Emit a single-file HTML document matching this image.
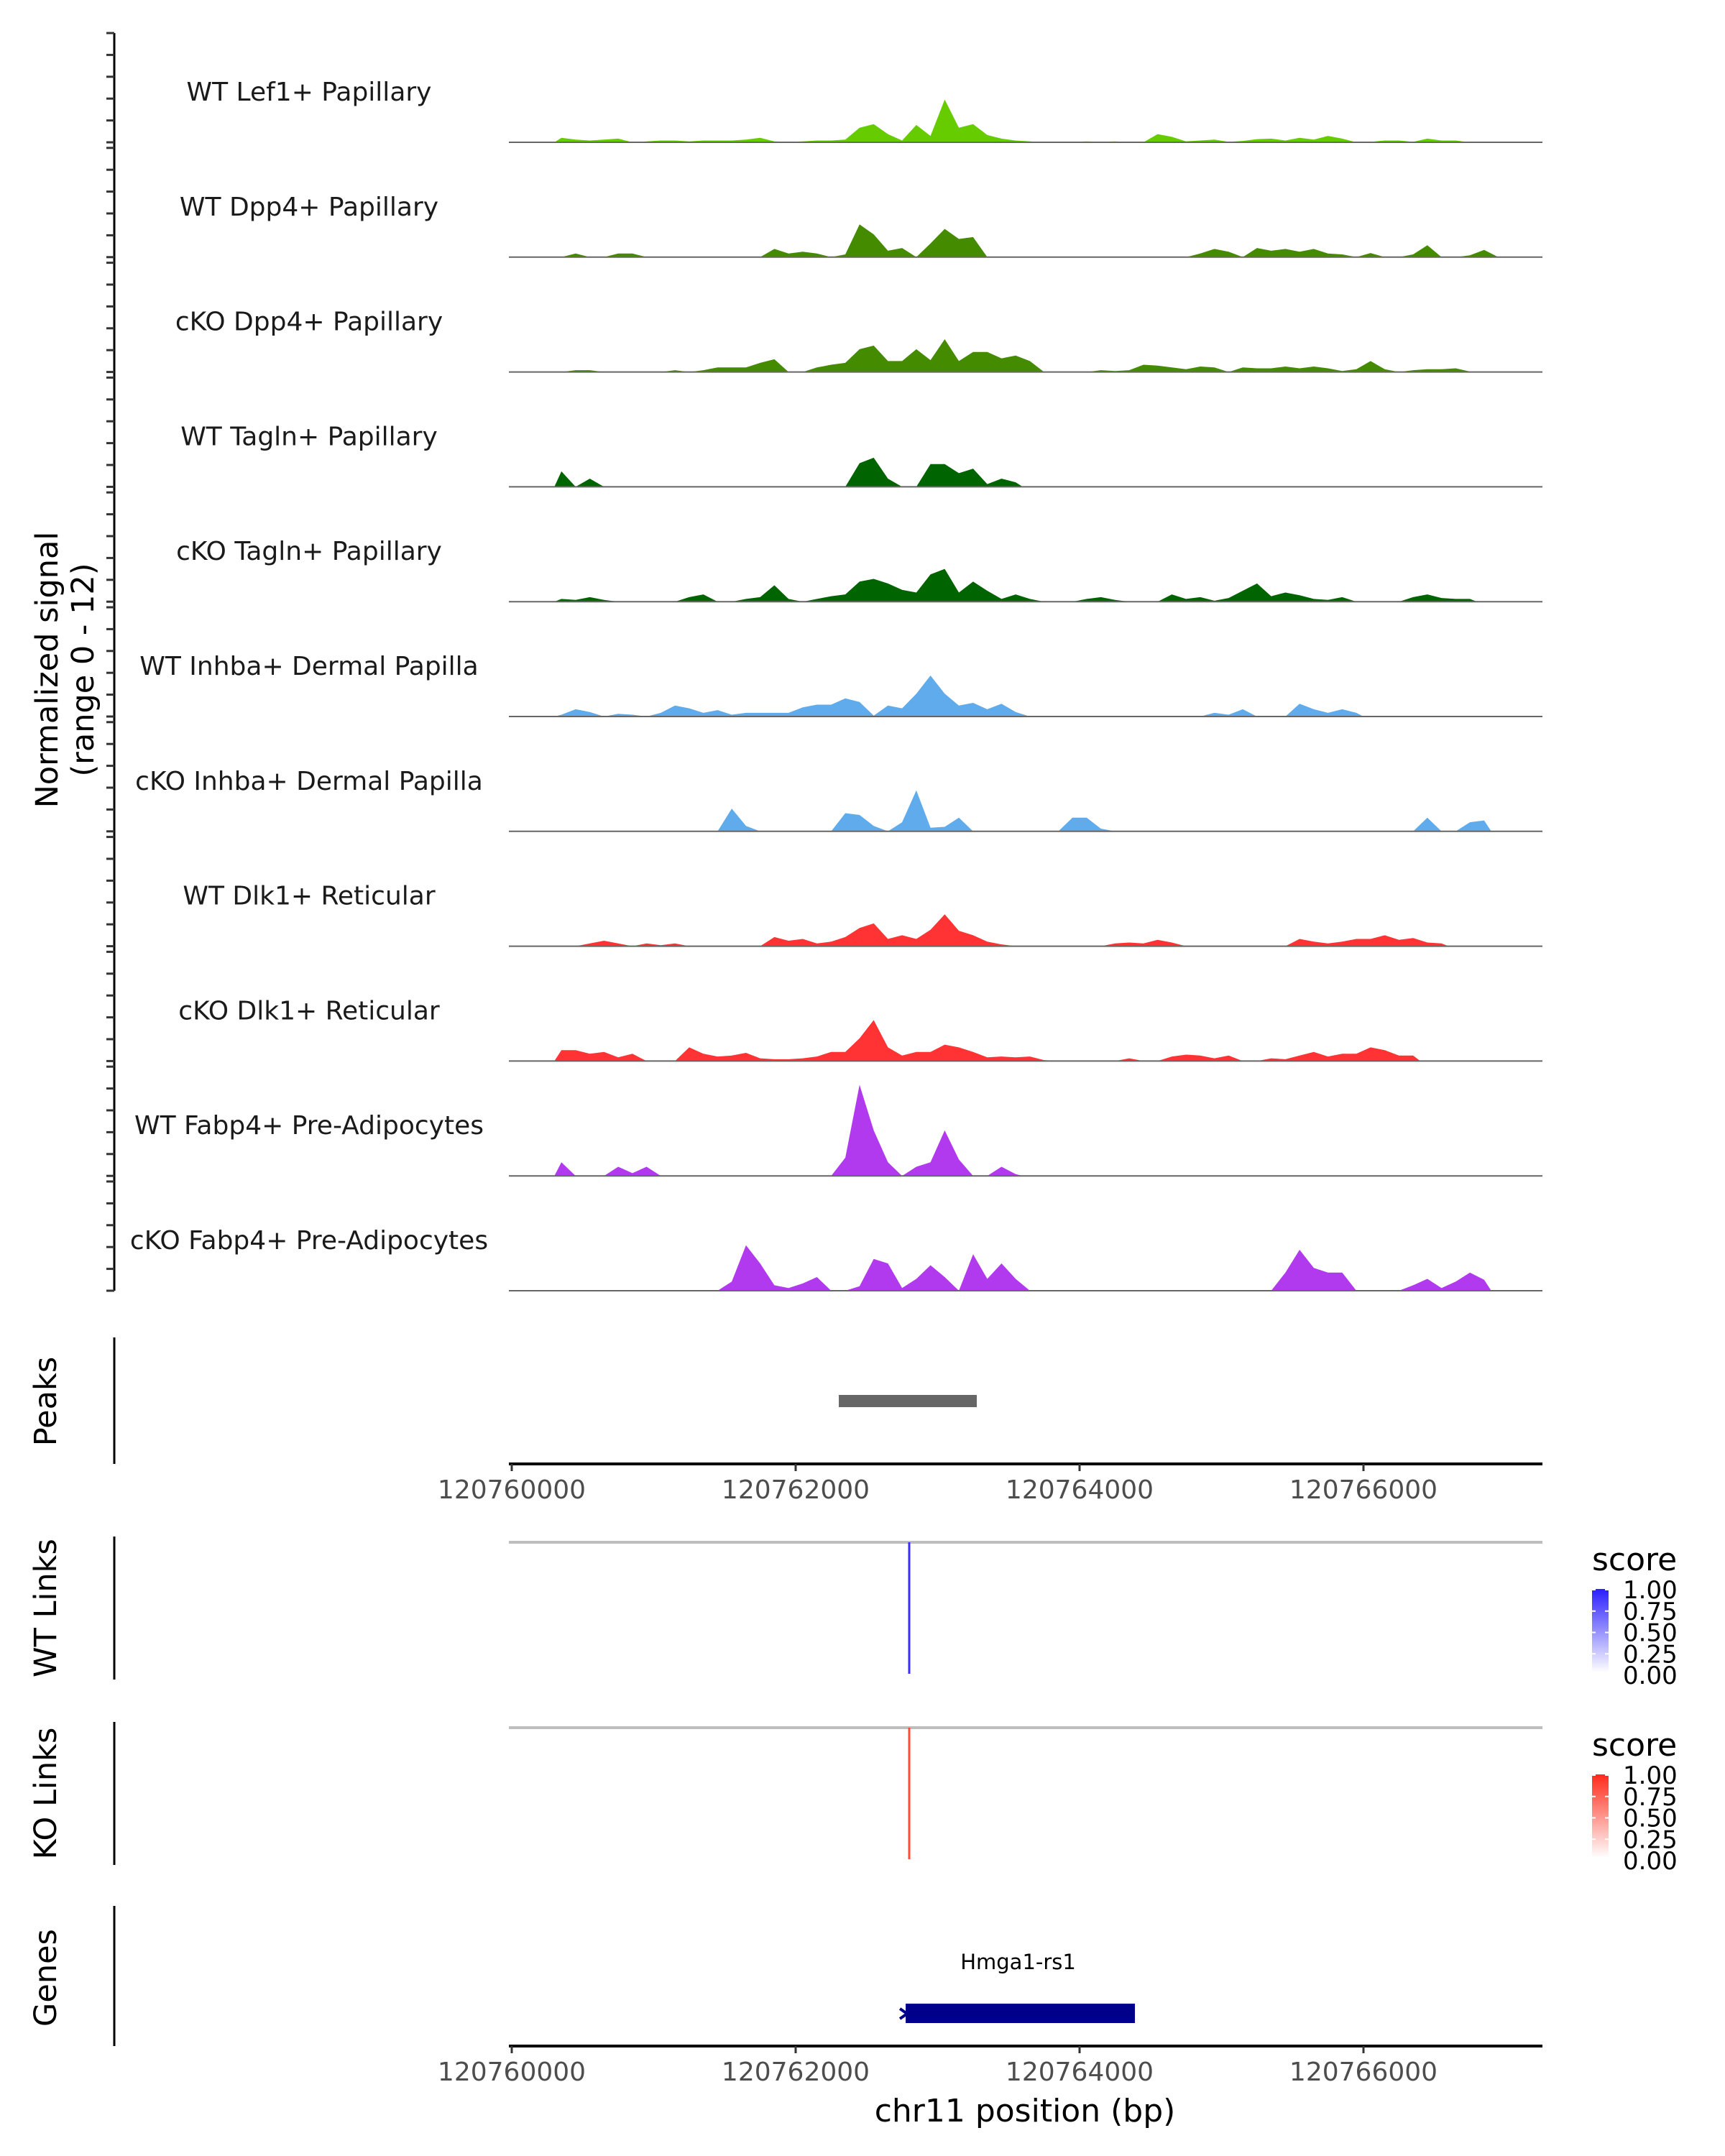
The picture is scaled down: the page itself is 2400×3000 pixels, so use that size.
<!DOCTYPE html>
<html><head><meta charset="utf-8">
<style>
html,body{margin:0;padding:0;background:#fff;}
svg{display:block;font-family:"DejaVu Sans","Liberation Sans",sans-serif;}
</style></head>
<body>
<svg id="chart" width="2400" height="3000" viewBox="0 0 2400 3000" xmlns="http://www.w3.org/2000/svg">
<rect width="2400" height="3000" fill="#fff"/>
<g>
<text transform="translate(80,932) rotate(-90)" text-anchor="middle" font-size="43" fill="#000">Normalized signal</text>
<text transform="translate(130,932) rotate(-90)" text-anchor="middle" font-size="43" fill="#000">(range 0 - 12)</text>
</g>
<g id="tracks"></g>
<g id="lower"></g>
</svg>
<script>
const binStart = 120760300;
const binSize = 100;
const trackNames = ["WT Lef1+ Papillary","WT Dpp4+ Papillary","cKO Dpp4+ Papillary","WT Tagln+ Papillary","cKO Tagln+ Papillary","WT Inhba+ Dermal Papilla","cKO Inhba+ Dermal Papilla","WT Dlk1+ Reticular","cKO Dlk1+ Reticular","WT Fabp4+ Pre-Adipocytes","cKO Fabp4+ Pre-Adipocytes"];
const trackColors = ["#66cc00","#458b00","#458b00","#006400","#006400","#5fabec","#5fabec","#ff3333","#ff3333","#b23aee","#b23aee"];
const wtLef1 = [0.5,0.3,0.2,0.3,0.4,0,0.1,0.2,0.2,0.1, 0.2,0.2,0.2,0.3,0.5,0.1,0.05,0.1,0.2,0.2, 0.3,1.6,2.0,0.9,0.2,1.9,0.7,4.7,1.6,2.0, 0.8,0.4,0.2,0.1,0,0,0.05,0.1,0.05,0.1, 0,0,0.9,0.6,0.1,0.2,0.3,0.05,0.15,0.35, 0.4,0.2,0.5,0.3,0.7,0.4,0,0.05,0.2,0.2, 0.05,0.4,0.2,0.2,0];
const wtDpp4 = [0,0.4,0,0,0.4,0.4,0,0,0,0, 0,0,0,0,0,0.9,0.4,0.6,0.4,0, 0.3,3.6,2.5,0.7,1.0,0,1.5,3.1,2.0,2.2, 0,0,0,0,0,0,0,0,0,0, 0,0,0,0,0,0.4,0.9,0.6,0,1.0, 0.7,0.9,0.6,0.9,0.4,0.3,0,0.45,0,0, 0.3,1.3,0,0,0.2,0.8,0];
const koDpp4 = [0,0.2,0.2,0,0,0,0,0,0.2,0, 0.2,0.5,0.5,0.5,1.0,1.4,0,0,0.5,0.8, 1.0,2.5,2.9,1.2,1.2,2.5,1.3,3.6,1.2,2.2, 2.2,1.5,1.8,1.2,0,0,0,0,0.2,0.1, 0.2,0.8,0.7,0.5,0.3,0.6,0.5,0,0.5,0.4, 0.4,0.6,0.4,0.6,0.4,0.1,0.3,1.2,0.3,0, 0.2,0.3,0.3,0.4,0.05];
const wtTagln = [1.7,0,0.9,0,0,0,0,0,0,0, 0,0,0,0,0,0,0,0,0,0, 0,2.6,3.2,0.9,0,0,2.5,2.5,1.5,2.0, 0.3,0.9,0.5];
const koTagln = [0.3,0.2,0.5,0.2,0,0,0,0,0,0.5, 0.8,0,0,0.3,0.5,1.8,0.3,0,0.3,0.6, 0.8,2.2,2.5,2.0,1.3,1.0,3.0,3.6,1.0,2.2, 1.2,0.3,0.8,0.3,0,0,0,0.3,0.5,0.2, 0,0,0,0.8,0.3,0.5,0.1,0.4,1.2,2.0, 0.6,1.0,0.7,0.3,0.2,0.5,0,0,0,0, 0.5,0.8,0.4,0.3,0.3];
const wtInhba = [0.2,0.8,0.5,0,0.3,0.2,0,0.4,1.2,0.9, 0.4,0.7,0.2,0.4,0.4,0.4,0.4,1.0,1.3,1.3, 2.0,1.6,0.1,1.2,0.9,2.5,4.5,2.5,1.2,1.5, 0.8,1.4,0.5,0,0,0,0,0,0,0, 0,0,0,0,0,0,0.4,0.2,0.8,0, 0,0,1.4,0.8,0.4,0.8,0.4];
const koInhba = [0,0,0,0,0,0,0,0,0,0, 0,0,2.5,0.6,0,0,0,0,0,0, 2.0,1.8,0.6,0,1.0,4.5,0.4,0.5,1.5,0, 0,0,0,0,0,0,1.5,1.5,0.3,0, 0,0,0,0,0,0,0,0,0,0, 0,0,0,0,0,0,0,0,0,0, 0,1.5,0,0,1.0,1.2];
const wtDlk1 = [0,0,0.3,0.6,0.3,0,0.3,0.1,0.3,0, 0,0,0,0,0,1.0,0.6,0.8,0.3,0.5, 1.0,2.0,2.5,0.8,1.2,0.8,1.8,3.5,1.7,1.2, 0.5,0.2,0,0,0,0,0,0,0,0.3, 0.4,0.3,0.7,0.4,0,0,0,0,0,0, 0,0,0.8,0.5,0.3,0.5,0.8,0.8,1.2,0.7, 0.9,0.4,0.3];
const koDlk1 = [1.2,1.2,0.8,1.0,0.4,0.8,0,0,0,1.5, 0.8,0.5,0.6,0.9,0.3,0.2,0.2,0.3,0.5,1.0, 1.0,2.5,4.5,1.5,0.6,1.0,1.0,1.8,1.5,1.0, 0.4,0.5,0.4,0.5,0.1,0,0,0,0,0, 0.3,0,0,0.5,0.7,0.6,0.3,0.6,0,0, 0.3,0.2,0.6,1.0,0.5,0.8,0.8,1.5,1.2,0.6, 0.6];
const wtFabp4 = [1.5,0,0,0,1.0,0.3,1.0,0,0,0, 0,0,0,0,0,0,0,0,0,0, 2.0,10.0,5.0,1.5,0,1.0,1.5,5.0,1.8,0, 0,1.0,0.2];
const koFabp4 = [0,0,0,0,0,0,0,0,0,0, 0,0,1.0,5.0,3.0,0.6,0.3,0.8,1.5,0, 0,0.5,3.5,3.0,0.3,1.3,2.8,1.5,0,4.0, 1.3,3.0,1.3,0,0,0,0,0,0,0, 0,0,0,0,0,0,0,0,0,0, 0,2.0,4.5,2.5,2.0,2.0,0,0,0,0, 0.6,1.3,0.3,1.0,2.0,1.2];
const trackValues = [wtLef1,wtDpp4,koDpp4,wtTagln,koTagln,wtInhba,koInhba,wtDlk1,koDlk1,wtFabp4,koFabp4];
const xTicks = [120760000,120762000,120764000,120766000];
const peakRanges = [[120762304,120763276]];
const wtLinks = [[120762800,1.0]];
const koLinks = [[120762800,1.0]];
const genes = [["Hmga1-rs1",120762775,120764390]];
const legendTicks = ["1.00","0.75","0.50","0.25","0.00"];

const NS = "http://www.w3.org/2000/svg";
const X0 = 712, PX_PER_BP = 395/2000, GENOME0 = 120760000;
const PLOT_L = 708, PLOT_R = 2146;
const TRACK_TOP0 = 46, TRACK_STEP = 159.8, TRACK_H = 152, YMAX = 12;
function xs(bp){ return X0 + (bp - GENOME0) * PX_PER_BP; }
function ys(i, v){ return TRACK_TOP0 + i*TRACK_STEP + TRACK_H - v/YMAX*TRACK_H; }
function mk(tag, attrs, parent){ const e=document.createElementNS(NS,tag); for(const k in attrs) e.setAttribute(k,attrs[k]); parent.appendChild(e); return e; }

const tg = document.getElementById('tracks');
// left axis
const ax = mk('line',{x1:159,x2:159,y1:TRACK_TOP0,y2:ys(10,0),stroke:'#000','stroke-width':3},tg);


trackNames.forEach((name,i)=>{
  const g = mk('g',{},tg);
  
  
  for(let t=0;t<=5;t++){
    const ty = TRACK_TOP0 + i*TRACK_STEP + t*TRACK_H/5;
    const tk = mk('line',{x1:148,x2:159,y1:ty,y2:ty,stroke:'#333','stroke-width':3},g);
    
    
  }
  const lab = mk('text',{x:430,y:ys(i,0)-58,'text-anchor':'middle','font-size':36,fill:'#1a1a1a'},g);
  lab.textContent = name;
  
  
  const vals = trackValues[i];
  let d = 'M'+xs(binStart).toFixed(1)+','+ys(i,0).toFixed(1);
  vals.forEach((v,k)=>{ d += ' L'+xs(binStart+binSize*k+binSize/2).toFixed(1)+','+ys(i,v).toFixed(1); });
  d += ' L'+xs(binStart+binSize*vals.length).toFixed(1)+','+ys(i,0).toFixed(1)+' Z';
  const area = mk('path',{d:d,fill:trackColors[i]},g);
  
  
  const bl = mk('line',{x1:PLOT_L,x2:PLOT_R,y1:ys(i,0),y2:ys(i,0),stroke:'#666','stroke-width':2},g);
  
  
});

const lg = document.getElementById('lower');
function panelLabel(text, cy, name){
  const t = mk('text',{transform:'translate(78,'+cy+') rotate(-90)','text-anchor':'middle','font-size':43,fill:'#000'},lg);
  t.textContent = text;
  
  
}
function vline(y1,y2,name){
  const l = mk('line',{x1:159,x2:159,y1:y1,y2:y2,stroke:'#000','stroke-width':3},lg);
  
  
}
function xAxis(y, name){
  const g = mk('g',{},lg);
  
  
  mk('line',{x1:PLOT_L,x2:PLOT_R,y1:y,y2:y,stroke:'#000','stroke-width':4},g);
  xTicks.forEach(t=>{
    const tk = mk('line',{x1:xs(t),x2:xs(t),y1:y,y2:y+10,stroke:'#333','stroke-width':3},g);
    
    
    const tl = mk('text',{x:xs(t),y:y+48,'text-anchor':'middle','font-size':36,fill:'#4d4d4d'},g);
    tl.textContent = String(t);
    
    
  });
}
// Peaks
panelLabel('Peaks',1950,'peaks-label');
vline(1861,2037,'peaks-axis-line');
peakRanges.forEach(p=>{
  const r = mk('rect',{x:xs(p[0]),y:1941,width:xs(p[1])-xs(p[0]),height:17,fill:'#666'},lg);
  
  
});
xAxis(2037,'x-axis-top');
// Links
function linkPanel(label, top, bottom, links, color, legendName, gradId, topColor){
  panelLabel(label,(top+bottom)/2,legendName+'-label');
  vline(top,bottom,legendName+'-axis-line');
  const gl = mk('line',{x1:PLOT_L,x2:PLOT_R,y1:top+8,y2:top+8,stroke:'#bebebe','stroke-width':4},lg);
  
  
  links.forEach(l=>{
    const ln = mk('line',{x1:xs(l[0]),x2:xs(l[0]),y1:top+8,y2:top+8+(bottom-top-16)*l[1],stroke:color,'stroke-width':3},lg);
    
    
  });
  const g = mk('g',{},lg);
  
  
  const st = mk('text',{x:2215,y:top+47,'font-size':44,fill:'#000'},g);
  st.textContent='score';
  const defs = mk('defs',{},g);
  const grad = mk('linearGradient',{id:gradId,x1:0,y1:1,x2:0,y2:0},defs);
  mk('stop',{offset:'0','stop-color':'#ffffff'},grad);
  mk('stop',{offset:'1','stop-color':topColor},grad);
  mk('rect',{x:2215,y:top+73,width:23,height:116,fill:'url(#'+gradId+')'},g);
  legendTicks.forEach((t,j)=>{
    const ty = top+74+j*29.75;
    const tl = mk('text',{x:2258,y:ty+12,'font-size':34,fill:'#000'},g);
    tl.textContent=t;
    mk('line',{x1:2215,x2:2220,y1:ty,y2:ty,stroke:'#fff','stroke-width':2},g);
    mk('line',{x1:2233,x2:2238,y1:ty,y2:ty,stroke:'#fff','stroke-width':2},g);
  });
}
linkPanel('WT Links',2138,2337,wtLinks,'#3b2bff','wt-links','gradWT','#2a1fff');
linkPanel('KO Links',2396,2595,koLinks,'#ff4b33','ko-links','gradKO','#ff2a1a');
// Genes
panelLabel('Genes',2752,'genes-label');
vline(2652,2847,'genes-axis-line');
genes.forEach(gn=>{
  const g = mk('g',{},lg);
  
  
  const x1 = xs(gn[1]), x2 = xs(gn[2]);
  const t = mk('text',{x:(x1+x2)/2-3,y:2740,'text-anchor':'middle','font-size':29,fill:'#000'},g);
  t.textContent = gn[0];
  mk('rect',{x:x1,y:2788,width:x2-x1,height:27,fill:'#00008b'},g);
  mk('path',{d:'M'+(x1-8)+',2795 L'+(x1+2)+',2802 L'+(x1-8)+',2809',stroke:'#00008b','stroke-width':4,fill:'none'},g);
});
xAxis(2847,'x-axis-bottom');
const xt = mk('text',{x:1426,y:2952,'text-anchor':'middle','font-size':44,fill:'#000'},lg);
xt.textContent = 'chr11 position (bp)';


</script>
</body></html>
